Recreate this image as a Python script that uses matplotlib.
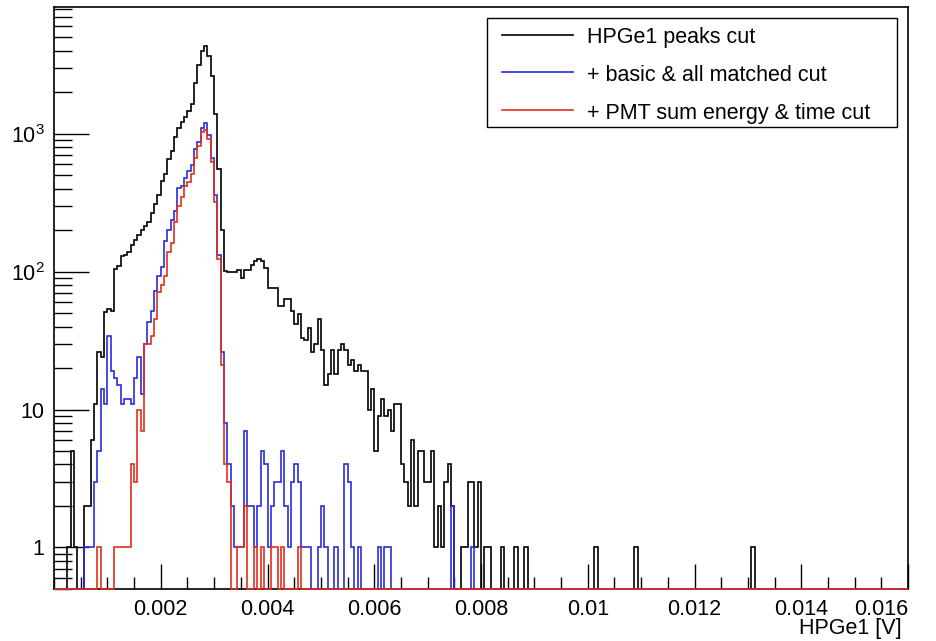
import numpy as np
import matplotlib
matplotlib.use("Agg")
import matplotlib.pyplot as plt
from matplotlib.ticker import FixedLocator, MultipleLocator, LogLocator, NullFormatter
from matplotlib.patches import Rectangle
from matplotlib.lines import Line2D

# histogram binning (HPGe1 amplitude)
x_lo, x_hi, n_bins = 0.0, 0.016, 256

# counts per bin, starting at bin 0
black_counts = [0, 0, 0, 0, 1, 5, 1, 0, 0, 2,
                2, 6, 11, 26, 24, 51, 54, 52, 105, 110,
                130, 132, 140, 156, 170, 185, 200, 215, 231, 267,
                310, 362, 453, 509, 652, 746, 944, 1094, 1216, 1322,
                1452, 1653, 2350, 3155, 3990, 4350, 3650, 2640, 1384, 557,
                201, 101, 100, 100, 100, 102, 90, 103, 103, 112,
                119, 124, 119, 106, 76, 76, 76, 56, 56, 63,
                63, 52, 42, 49, 33, 32, 39, 26, 30, 45,
                27, 15, 18, 27, 18, 27, 30, 27, 21, 23,
                19, 21, 19, 19, 10, 14, 5, 9, 12, 9,
                10, 7, 11, 11, 4, 3, 2, 6, 2, 5,
                5, 3, 3, 5, 1, 2, 1, 3, 4, 2,
                0, 0, 1, 1, 3, 3, 1, 3, 0, 1,
                1, 0, 0, 0, 1]
black_extra = {138: 1, 141: 1, 162: 1, 174: 1, 209: 1}

blue_counts = [0, 0, 0, 0, 0, 0, 0, 0, 0, 1,
               1, 1, 3, 5, 14, 11, 34, 19, 17, 15,
               11, 12, 12, 11, 17, 24, 13, 30, 43, 52,
               73, 93, 109, 167, 199, 238, 275, 403, 415, 481,
               541, 590, 769, 865, 1094, 1196, 973, 663, 358, 132,
               26, 8, 4, 2, 1, 1, 1, 7, 2, 2,
               1, 2, 5, 4, 1, 2, 3, 3, 5, 2,
               1, 3, 4, 3, 1, 1, 1, 0, 0, 1,
               2, 1, 0, 0, 1, 0, 0, 4, 3, 1,
               0, 1, 0, 0, 0, 0, 0, 1, 0, 1,
               1]
blue_extra = {119: 2, 125: 1}

red_counts = [0, 0, 0, 0, 0, 0, 0, 0, 0, 0,
              0, 0, 0, 1, 0, 0, 0, 0, 1, 1,
              1, 1, 1, 4, 3, 10, 7, 30, 30, 34,
              45, 71, 80, 93, 140, 162, 231, 300, 347, 415,
              450, 509, 663, 816, 1033, 1062, 916, 626, 319, 124,
              21, 4, 3, 0, 0, 1, 1, 2, 0, 0,
              1, 0, 1, 0, 0, 1, 1, 0, 1, 0,
              0, 0, 0, 1]
red_extra = {}

labels = ["HPGe1 peaks cut", "+ basic & all matched cut", "+ PMT sum energy & time cut"]
colors = ["black", "#2b2bdc", "#e0301e"]


def full_hist(counts, extra):
    h = np.zeros(n_bins)
    h[:len(counts)] = counts
    for b, c in extra.items():
        h[b] = c
    return h


plt.rcParams["font.family"] = ["Liberation Sans", "DejaVu Sans"]
plt.rcParams["mathtext.fontset"] = "custom"
plt.rcParams["mathtext.rm"] = "Liberation Sans"
plt.rcParams["mathtext.it"] = "Liberation Sans:italic"
plt.rcParams["font.size"] = 15.5

edges = np.linspace(x_lo, x_hi, n_bins + 1)
ymin, ymax = 0.5, 8300

fig = plt.figure(figsize=(9.36, 6.41), dpi=100)
ax = fig.add_axes([54 / 936, 1 - 589 / 641, (908 - 54) / 936, (589 - 7) / 641])

hists = [full_hist(black_counts, black_extra),
         full_hist(blue_counts, blue_extra),
         full_hist(red_counts, red_extra)]
for h, col in zip(hists, colors):
    # empty bins sit on the lower axis edge, like ROOT draws them
    ax.stairs(np.clip(h, ymin, None), edges, baseline=None, color=col, lw=1.2,
              zorder=3, clip_on=False)

ax.set_yscale("log")
ax.set_xlim(x_lo, x_hi)
ax.set_ylim(ymin, ymax)

xt = [0.002, 0.004, 0.006, 0.008, 0.01, 0.012, 0.014, 0.016]
ax.xaxis.set_major_locator(FixedLocator(xt))
ax.set_xticklabels(["0.002", "0.004", "0.006", "0.008", "0.01", "0.012", "0.014", "0.016"])
ax.xaxis.set_minor_locator(MultipleLocator(0.0005))
ax.get_xticklabels()[-1].set_horizontalalignment("right")

ax.yaxis.set_major_locator(FixedLocator([1, 10, 100, 1000]))
ax.set_yticklabels(["1", "10", "$10^{2}$", "$10^{3}$"])
ax.yaxis.set_minor_locator(LogLocator(base=10, subs=np.arange(2, 10) * 1.0, numticks=20))
ax.yaxis.set_minor_formatter(NullFormatter())

ax.tick_params(axis="x", which="major", direction="in", length=18, width=1, pad=7)
ax.tick_params(axis="x", which="minor", direction="in", length=9, width=1)
ax.tick_params(axis="y", which="major", direction="in", length=25, width=1, pad=7)
ax.tick_params(axis="y", which="minor", direction="in", length=13, width=1)
for s in ax.spines.values():
    s.set_linewidth(1.2)

fig.text(902 / 936, 1 - 634 / 641, "HPGe1 [V]", ha="right", va="baseline")

# legend box (ROOT style)
W, H = 936.0, 641.0
fig.add_artist(Rectangle((486.7 / W, 1 - 126.7 / H), (896.7 - 486.7) / W, (126.7 - 18.3) / H,
                         transform=fig.transFigure, fill=False, edgecolor="black", lw=1.0))
for i, (lab, col) in enumerate(zip(labels, colors)):
    yl = [35, 72, 110][i]
    yb = [43.5, 81, 118.5][i]
    fig.add_artist(Line2D([501.7 / W, 573.3 / W], [1 - yl / H, 1 - yl / H],
                          transform=fig.transFigure, color=col, lw=1.2))
    fig.text(587 / W, 1 - yb / H, lab, ha="left", va="baseline")

fig.savefig("out.png", dpi=100)
